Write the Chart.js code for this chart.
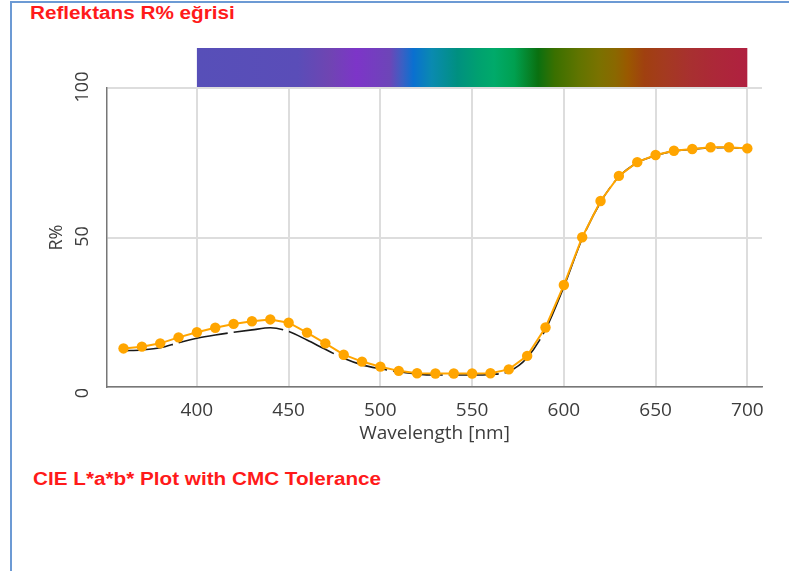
<!DOCTYPE html>
<html>
<head>
<meta charset="utf-8">
<script src="https://cdn.jsdelivr.net/npm/chart.js@4"></script>
<style>
  html, body { margin: 0; padding: 0; background: #fff; }
  body { width: 789px; height: 571px; position: relative; overflow: hidden; }
  .frame { position: absolute; left: 10px; top: 1px; right: -4px; bottom: -4px;
           border-top: 2px solid #6c9ad4; border-left: 2px solid #6c9ad4; }
  .caption { position: absolute; color: #ff1a1a; font-family: "Liberation Sans", Arial, sans-serif;
             font-weight: bold; white-space: nowrap; line-height: 1; transform-origin: 0 0; }
  #title1 { left: 30px; top: 4px; font-size: 18px; transform: scaleX(1.15); }
  #title2 { left: 33px; top: 470px; font-size: 18px; transform: scaleX(1.15); }
  #wrap { position: absolute; left: 0; top: 0; width: 789px; height: 460px; }
</style>
</head>
<body>
<div class="frame"></div>
<div class="caption" id="title1">Reflektans R% eğrisi</div>
<div class="caption" id="title2">CIE L*a*b* Plot with CMC Tolerance</div>
<div id="wrap"><canvas id="reflChart"></canvas></div>
<script>
// wavelengths (nm) of the measured points
var wavelengths = [360, 370, 380, 390, 400, 410, 420, 430, 440, 450, 460, 470, 480, 490, 500, 510, 520, 530,
                   540, 550, 560, 570, 580, 590, 600, 610, 620, 630, 640, 650, 660, 670, 680, 690, 700];
// sample reflectance (orange dots)
var sampleR = [12.9, 13.5, 14.6, 16.6, 18.3, 19.8, 21.1, 22.0, 22.6, 21.5, 18.2, 14.6, 10.8, 8.5, 6.8, 5.4, 4.6, 4.5,
               4.5, 4.5, 4.6, 5.9, 10.4, 19.9, 34.1, 50.1, 62.2, 70.6, 75.2, 77.6, 79.0, 79.6, 80.2, 80.2, 79.8];
// standard reflectance (black dashed curve)
var standardR = [12.1, 12.4, 13.1, 14.8, 16.3, 17.4, 18.3, 19.1, 19.8, 18.6, 15.7, 12.6, 9.6, 7.4, 6.1, 5.1, 4.3, 4.0,
                 4.0, 4.0, 4.2, 5.2, 9.8, 19.2, 33.5, 49.6, 61.8, 70.3, 75.0, 77.4, 78.9, 79.5, 80.0, 80.1, 79.7];
var xTicks = [400, 450, 500, 550, 600, 650, 700];
var yTicks = [0, 50, 100];

// spectrum bar colours (nm, colour)
var spectrumStops = [
    [400, '#574fb8'], [455, '#5a4db8'], [472, '#6f45b2'], [487, '#7d35c8'], [505, '#6d45b8'],
    [512, '#3a60c4'], [518, '#0a70d0'], [528, '#0a8ab0'], [542, '#009080'], [553, '#00a070'],
    [562, '#00aa6a'], [573, '#00a050'], [586, '#0a7010'], [595, '#3a7000'], [608, '#607400'],
    [619, '#7a7200'], [628, '#8a6800'], [635, '#9a5800'], [644, '#a04010'], [655, '#a43a20'],
    [669, '#a83030'], [682, '#ac2838'], [700, '#b02040']
];

var tickFont = { family: '"Open Sans", "Noto Sans", sans-serif', size: 19 };

var spectrumBar = {
    id: 'spectrumBar',
    beforeDraw: function (chart) {
        var ctx = chart.ctx;
        var xs = chart.scales.x;
        var x0 = xs.getPixelForValue(400), x1 = xs.getPixelForValue(700);
        var top = 48, bottom = chart.chartArea.top - 1;
        var grad = ctx.createLinearGradient(x0, 0, x1, 0);
        spectrumStops.forEach(function (s) {
            grad.addColorStop((s[0] - 400) / 300, s[1]);
        });
        ctx.save();
        ctx.fillStyle = grad;
        ctx.fillRect(x0, top, x1 - x0, bottom - top);
        ctx.restore();
    },
    afterDraw: function (chart) {
        // rotated y tick labels
        var ctx = chart.ctx;
        var ys = chart.scales.y;
        ctx.save();
        ctx.font = '18px "Open Sans", "Noto Sans", sans-serif';
        ctx.fillStyle = '#3c3c3c';
        ctx.textAlign = 'center';
        ctx.textBaseline = 'middle';
        yTicks.forEach(function (v) {
            ctx.save();
            ctx.translate(83, ys.getPixelForValue(v) + (v === 0 ? 6 : -1));
            ctx.rotate(-Math.PI / 2);
            ctx.fillText(String(v), 0, 0);
            ctx.restore();
        });
        ctx.restore();
    }
};

var ctx = document.getElementById('reflChart').getContext('2d');
var chart = new Chart(ctx, {
    type: 'line',
    data: {
        datasets: [{
            label: 'Standard',
            data: wavelengths.map(function (w, i) { return { x: w, y: standardR[i] }; }),
            borderColor: '#1a1a1a',
            borderWidth: 1.6,
            borderDash: [50, 6],
            pointRadius: 0,
            cubicInterpolationMode: 'monotone',
            fill: false,
            order: 2
        }, {
            label: 'Sample',
            data: wavelengths.map(function (w, i) { return { x: w, y: sampleR[i] }; }),
            borderColor: '#ffa500',
            backgroundColor: '#ffa500',
            borderWidth: 2,
            pointRadius: 5.2,
            pointBorderWidth: 0,
            tension: 0,
            fill: false,
            order: 1
        }]
    },
    options: {
        responsive: true,
        maintainAspectRatio: false,
        animation: false,
        layout: { padding: { top: 88, right: 27, left: 0, bottom: 13 } },
        plugins: {
            legend: { display: false },
            tooltip: { enabled: false }
        },
        scales: {
            x: {
                type: 'linear',
                min: 351,
                max: 708,
                afterBuildTicks: function (scale) {
                    scale.ticks = xTicks.map(function (v) { return { value: v }; });
                },
                afterFit: function (scale) { scale.height = 60; },
                grid: { color: '#dddddd', lineWidth: 2, drawTicks: false },
                border: { color: '#777', width: 1.5 },
                ticks: { color: '#3c3c3c', font: tickFont, padding: 12, maxRotation: 0 },
                title: {
                    display: true,
                    text: 'Wavelength [nm]',
                    color: '#3c3c3c',
                    font: tickFont,
                    padding: { top: 0, bottom: 2 }
                }
            },
            y: {
                min: 0,
                max: 100,
                afterBuildTicks: function (scale) {
                    scale.ticks = yTicks.map(function (v) { return { value: v }; });
                },
                afterFit: function (scale) { scale.width = 107; },
                grid: { color: '#dddddd', lineWidth: 2, drawTicks: false },
                border: { color: '#777', width: 1.5 },
                ticks: { display: false },
                title: {
                    display: true,
                    text: 'R%',
                    color: '#3c3c3c',
                    font: { family: '"Open Sans", "Noto Sans", sans-serif', size: 18 },
                    padding: { top: 46, bottom: 0 }
                }
            }
        }
    },
    plugins: [spectrumBar]
});
</script>
</body>
</html>
